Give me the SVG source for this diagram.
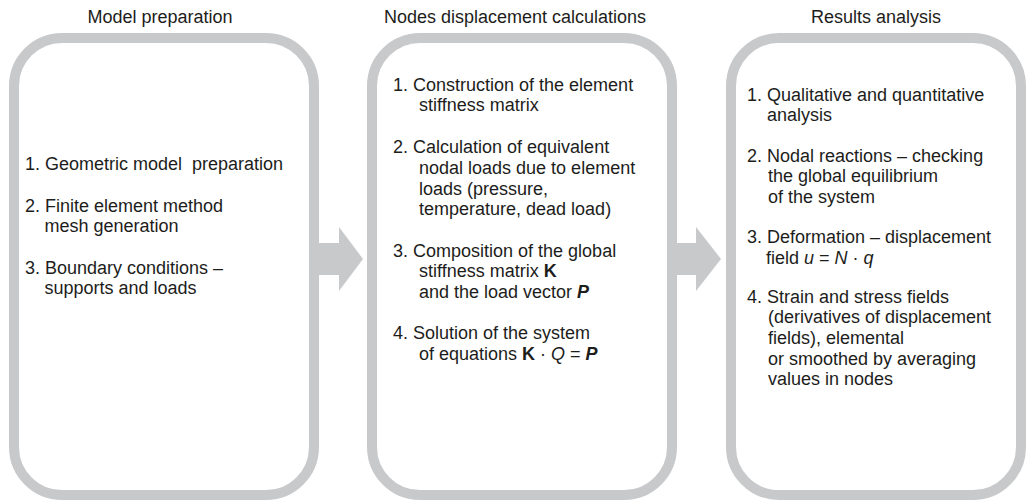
<svg xmlns="http://www.w3.org/2000/svg" width="1027" height="501" viewBox="0 0 1027 501">
<style>
.box{fill:#ffffff;stroke:#c8c9cb;stroke-width:10}
.arr{fill:#c8c9cb;stroke:none}
text{font-family:"Liberation Sans",Arial,sans-serif;font-size:18px;fill:#1d1d1b}
.t{text-anchor:middle}
.b{font-weight:bold}
.i{font-style:italic}
</style>
<rect width="1027" height="501" fill="#ffffff"/>
<g id="connectors">
<polygon class="arr" points="314,243 339,243 339,227 363,259 339,291 339,275 314,275"/>
<polygon class="arr" points="672,243 696,243 696,227 721,259 696,291 696,275 672,275"/>
</g>
<g id="model-preparation">
<text class="t" x="160" y="23">Model preparation</text>
<rect class="box" x="14" y="38" width="300" height="457" rx="48" ry="48"/>
<text x="25" y="170">1. Geometric model&#160; preparation</text>
<text x="25" y="212">2. Finite element method</text>
<text x="44.5" y="232">mesh generation</text>
<text x="25" y="274">3. Boundary conditions –</text>
<text x="44.5" y="294">supports and loads</text>
</g>
<g id="nodes-displacement">
<text class="t" x="515" y="23">Nodes displacement calculations</text>
<rect class="box" x="372" y="38" width="300" height="457" rx="48" ry="48"/>
<text x="393" y="91">1. Construction of the element</text>
<text x="419" y="111">stiffness matrix</text>
<text x="393" y="153">2. Calculation of equivalent</text>
<text x="419" y="174">nodal loads due to element</text>
<text x="419" y="195">loads (pressure,</text>
<text x="419" y="215">temperature, dead load)</text>
<text x="393" y="257">3. Composition of the global</text>
<text x="419" y="277">stiffness matrix <tspan class="b">K</tspan></text>
<text x="419" y="298">and the load vector <tspan class="b i">P</tspan></text>
<text x="393" y="339">4. Solution of the system</text>
<text x="419" y="360">of equations <tspan class="b">K</tspan> · <tspan class="i">Q</tspan> = <tspan class="b i">P</tspan></text>
</g>
<g id="results-analysis">
<text class="t" x="876" y="23">Results analysis</text>
<rect class="box" x="731" y="38" width="290" height="457" rx="48" ry="48"/>
<text x="747" y="101">1. Qualitative and quantitative</text>
<text x="767" y="121">analysis</text>
<text x="747" y="162">2. Nodal reactions – checking</text>
<text x="768" y="182">the global equilibrium</text>
<text x="768" y="203">of the system</text>
<text x="747" y="243">3. Deformation – displacement</text>
<text x="766" y="264">field <tspan class="i">u</tspan> = <tspan class="i">N</tspan> · <tspan class="i">q</tspan></text>
<text x="747" y="303">4. Strain and stress fields</text>
<text x="768" y="323">(derivatives of displacement</text>
<text x="768" y="344">fields), elemental</text>
<text x="768" y="365">or smoothed by averaging</text>
<text x="768" y="385">values in nodes</text>
</g>
</svg>
